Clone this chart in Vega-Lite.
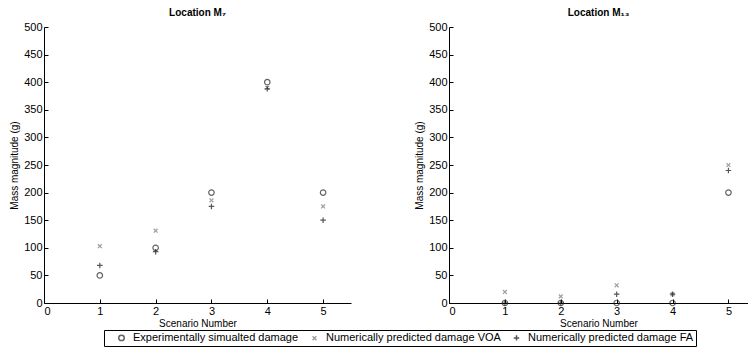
{
  "$schema": "https://vega.github.io/schema/vega-lite/v6.json",
  "padding": {"left": 9, "top": 8, "right": 0, "bottom": 0},
  "background": "white",
  "config": {
    "font": "Liberation Sans",
    "view": {"stroke": null},
    "axis": {"labelFont": "Liberation Sans", "titleFont": "Liberation Sans", "labelColor": "black", "titleColor": "black", "domainColor": "black", "tickColor": "black", "grid": false, "labelFontSize": 11, "titleFontSize": 10, "titleFontWeight": "normal", "tickSize": -4, "labelPadding": 6, "domainWidth": 1},
    "title": {"font": "Liberation Sans", "fontSize": 10, "fontWeight": "bold", "color": "black", "offset": 3},
    "legend": {"labelFont": "Liberation Sans", "labelFontSize": 11, "labelColor": "black", "labelLimit": 0}
  },
  "data": {"values": [
    {"panel": "M7", "scenario": 1, "series": "Experimentally simualted damage", "value": 50},
    {"panel": "M7", "scenario": 2, "series": "Experimentally simualted damage", "value": 100},
    {"panel": "M7", "scenario": 3, "series": "Experimentally simualted damage", "value": 200},
    {"panel": "M7", "scenario": 4, "series": "Experimentally simualted damage", "value": 400},
    {"panel": "M7", "scenario": 5, "series": "Experimentally simualted damage", "value": 200},
    {"panel": "M7", "scenario": 1, "series": "Numerically predicted damage VOA", "value": 103},
    {"panel": "M7", "scenario": 2, "series": "Numerically predicted damage VOA", "value": 131},
    {"panel": "M7", "scenario": 3, "series": "Numerically predicted damage VOA", "value": 186},
    {"panel": "M7", "scenario": 4, "series": "Numerically predicted damage VOA", "value": 390},
    {"panel": "M7", "scenario": 5, "series": "Numerically predicted damage VOA", "value": 175},
    {"panel": "M7", "scenario": 1, "series": "Numerically predicted damage FA", "value": 68},
    {"panel": "M7", "scenario": 2, "series": "Numerically predicted damage FA", "value": 93},
    {"panel": "M7", "scenario": 3, "series": "Numerically predicted damage FA", "value": 175},
    {"panel": "M7", "scenario": 4, "series": "Numerically predicted damage FA", "value": 388},
    {"panel": "M7", "scenario": 5, "series": "Numerically predicted damage FA", "value": 150},
    {"panel": "M13", "scenario": 1, "series": "Experimentally simualted damage", "value": 0},
    {"panel": "M13", "scenario": 2, "series": "Experimentally simualted damage", "value": 0},
    {"panel": "M13", "scenario": 3, "series": "Experimentally simualted damage", "value": 0},
    {"panel": "M13", "scenario": 4, "series": "Experimentally simualted damage", "value": 0},
    {"panel": "M13", "scenario": 5, "series": "Experimentally simualted damage", "value": 200},
    {"panel": "M13", "scenario": 1, "series": "Numerically predicted damage VOA", "value": 20},
    {"panel": "M13", "scenario": 2, "series": "Numerically predicted damage VOA", "value": 12},
    {"panel": "M13", "scenario": 3, "series": "Numerically predicted damage VOA", "value": 32},
    {"panel": "M13", "scenario": 4, "series": "Numerically predicted damage VOA", "value": 16},
    {"panel": "M13", "scenario": 5, "series": "Numerically predicted damage VOA", "value": 250},
    {"panel": "M13", "scenario": 1, "series": "Numerically predicted damage FA", "value": 0},
    {"panel": "M13", "scenario": 2, "series": "Numerically predicted damage FA", "value": 0},
    {"panel": "M13", "scenario": 3, "series": "Numerically predicted damage FA", "value": 16},
    {"panel": "M13", "scenario": 4, "series": "Numerically predicted damage FA", "value": 16},
    {"panel": "M13", "scenario": 5, "series": "Numerically predicted damage FA", "value": 240}
  ]},
  "spacing": 63,
  "resolve": {"scale": {"shape": "shared", "color": "shared"}, "legend": {"shape": "shared", "color": "shared"}},
  "hconcat": [
    {
      "title": "Location M₇",
      "width": 307, "height": 276,
      "transform": [{"filter": "datum.panel === 'M7'"}],
      "mark": {"type": "point", "filled": false, "strokeWidth": 1.2, "size": 30},
      "encoding": {
        "x": {"field": "scenario", "type": "quantitative", "title": "Scenario Number", "scale": {"domain": [0, 5.5], "nice": false}, "axis": {"values": [0, 1, 2, 3, 4, 5], "labelPadding": 6, "titlePadding": 2}},
        "y": {"field": "value", "type": "quantitative", "title": "Mass magnitude (g)", "scale": {"domain": [0, 500], "nice": false}, "axis": {"values": [0, 50, 100, 150, 200, 250, 300, 350, 400, 450, 500], "titlePadding": 4}},
        "shape": {"field": "series", "type": "nominal", "title": null, "scale": {"domain": ["Experimentally simualted damage", "Numerically predicted damage VOA", "Numerically predicted damage FA"], "range": ["circle", "M-0.7,-0.7L0.7,0.7M-0.7,0.7L0.7,-0.7", "M-1,0L1,0M0,-1L0,1"]}, "legend": {"orient": "none", "legendX": 60, "legendY": 303, "direction": "horizontal", "strokeColor": "black", "padding": 2, "symbolOffset": 10, "columnPadding": -3, "symbolSize": 30, "labelOffset": 6, "labelLimit": 0}},
        "color": {"field": "series", "type": "nominal", "title": null, "scale": {"domain": ["Experimentally simualted damage", "Numerically predicted damage VOA", "Numerically predicted damage FA"], "range": ["#222222", "#777777", "#111111"]}}
      }
    },
    {
      "title": "Location M₁₃",
      "width": 299, "height": 276,
      "transform": [{"filter": "datum.panel === 'M13'"}],
      "mark": {"type": "point", "filled": false, "strokeWidth": 1.2, "size": 30},
      "encoding": {
        "x": {"field": "scenario", "type": "quantitative", "title": "Scenario Number", "scale": {"domain": [0, 5.35], "nice": false}, "axis": {"values": [0, 1, 2, 3, 4, 5], "labelPadding": 6, "titlePadding": 2}},
        "y": {"field": "value", "type": "quantitative", "title": "Mass magnitude (g)", "scale": {"domain": [0, 500], "nice": false}, "axis": {"values": [0, 50, 100, 150, 200, 250, 300, 350, 400, 450, 500], "titlePadding": 4}},
        "shape": {"field": "series", "type": "nominal", "title": null},
        "color": {"field": "series", "type": "nominal", "title": null}
      }
    }
  ]
}
